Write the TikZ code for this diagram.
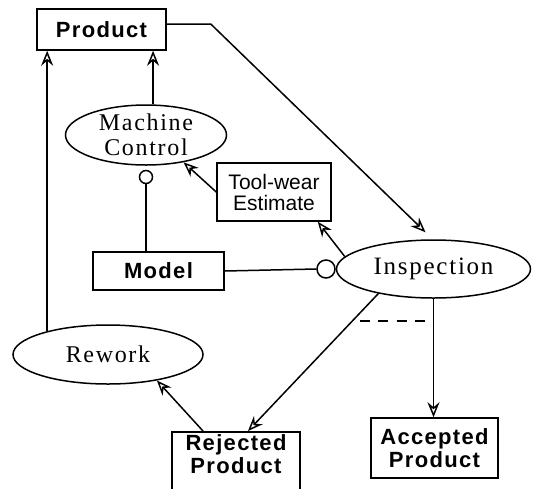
\documentclass[tikz,border=0pt]{standalone}
\usepackage{fontspec}
\setmainfont{Liberation Serif}
\newfontfamily\labelsans{Liberation Sans}[LetterSpace=6]
\newfontfamily\plainsans{Liberation Sans}
\newfontfamily\labelserif{Liberation Serif}[LetterSpace=7]
\usetikzlibrary{shapes.geometric,arrows.meta,calc}

\tikzset{
  boxnode/.style={draw, rectangle, inner sep=0pt, align=center,
    font=\labelsans\bfseries\fontsize{22}{23}\selectfont},
  notebox/.style={draw, rectangle, inner sep=0pt, align=center,
    font=\plainsans\fontsize{21}{21}\selectfont},
  activity/.style={draw, ellipse, inner sep=0pt, align=center,
    font=\labelserif\fontsize{24}{25}\selectfont},
  lolly/.style={draw, circle, inner sep=0pt, fill=white},
  arr/.style={-{Stealth[open,length=15pt,width=12pt,inset=5pt]}},
  guard/.style={line width=2.3pt, dash pattern=on 10pt off 8.3pt}
}

\begin{document}
\begin{tikzpicture}[x=1pt, y=-1pt, line width=1.5pt]
\useasboundingbox (0,0) rectangle (534,488);

% blocks
\node[boxnode, minimum width=129pt, minimum height=41pt] (product) at (101.5,29.5) {Product};
\node[activity, minimum width=161pt, minimum height=60pt, inner ysep=-7pt] (mc) at (146,135) {Machine\\Control};
\node[notebox, minimum width=114pt, minimum height=58pt] (tool) at (274,192) {Tool-wear\\Estimate};
\node[boxnode, minimum width=131pt, minimum height=38pt] (model) at (158.5,271) {Model};
\node[activity, minimum width=194pt, minimum height=58pt, font=\labelserif\fontsize{25}{27}\selectfont] (insp) at (433.5,269) {Inspection};
\node[activity, minimum width=190pt, minimum height=59pt] (rework) at (108,354.5) {Rework};
\node[boxnode, minimum width=128pt, inner ysep=3pt, text depth=20pt, anchor=north] (rej) at (236,431) {Rejected\\Product};
\node[boxnode, minimum width=127pt, minimum height=60pt] (acc) at (434.5,448) {Accepted\\Product};

% interface circles
\node[lolly, minimum size=13pt, anchor=north] (lolM) at ([yshift=-4pt]mc.south) {};
\node[lolly, minimum size=18pt, anchor=east] (lolI) at (insp.west) {};

% connectors
\draw[arr] (rework.159) -- (rework.159 |- product.south);
\draw[arr] (mc.77) -- (mc.77 |- product.south);
\draw[arr] ([yshift=5.5pt]product.east) -- ++(44,0) -- ([xshift=-8pt,yshift=7pt]insp.north);
\draw[arr] (tool.west) -- (mc.-36);
\draw[arr] (insp.172) -- ([xshift=-14pt]tool.south east);
\draw (lolM.south) -- (lolM.south |- model.north);
\draw (model.east) -- (lolI.west);
\draw[arr] (insp.-156.5) -- ([xshift=12pt]rej.north);
\draw[arr] (insp.south) -- (insp.south |- acc.north);
\draw[arr] ([xshift=-33pt]rej.north) -- (rework.-28.6);

% guard between the two outcomes
\coordinate (g1) at (360,320.7);
\coordinate (g2) at (425,320.7);
\draw[guard] (g1) -- (g2);
\end{tikzpicture}
\end{document}
